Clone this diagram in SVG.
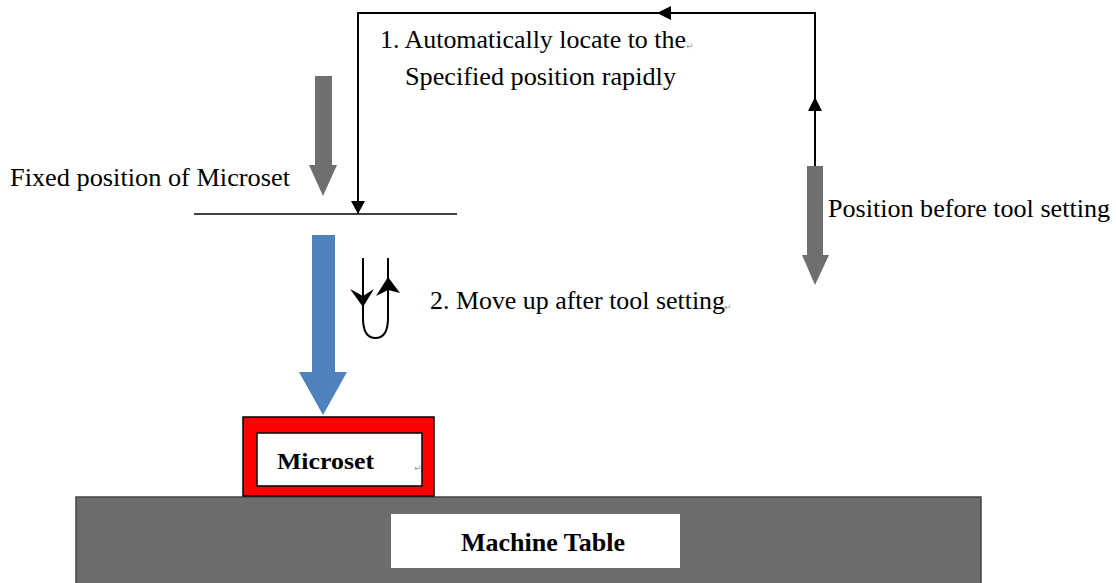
<svg xmlns="http://www.w3.org/2000/svg" width="1116" height="583" viewBox="0 0 1116 583">
<style>
.t{font-family:"Liberation Serif","Times New Roman",serif;font-size:25px;fill:#000}
.b{font-family:"Liberation Serif","Times New Roman",serif;font-weight:bold;fill:#000}
.pm{font-family:"DejaVu Sans",sans-serif;font-size:9px;fill:#999}
.ln{stroke:#000;stroke-width:2;fill:none}
.gray{fill:#6f6f6f}
</style>
<rect width="1116" height="583" fill="#fff"/>

<g id="machine-table">
<rect x="76" y="497" width="905" height="90" fill="#6d6d6d" stroke="#444" stroke-width="1.5"/>
<rect x="391" y="514" width="289" height="54" fill="#fff"/>
<text class="b" x="461" y="551" font-size="26" textLength="164" lengthAdjust="spacingAndGlyphs">Machine Table</text>
</g>

<g id="microset">
<rect x="243" y="417" width="191" height="79" fill="#ff0000" stroke="#000" stroke-width="1.5"/>
<rect x="257" y="433" width="165" height="53" fill="#fff" stroke="#000" stroke-width="1.5"/>
<text class="b" x="277" y="469" font-size="23" textLength="97" lengthAdjust="spacingAndGlyphs">Microset</text>
<text class="pm" x="414" y="471">↵</text>
</g>

<g id="fixed-position">
<line x1="194" y1="214" x2="457" y2="214" stroke="#000" stroke-width="1.5"/>
<text class="t" x="10" y="186" textLength="280" lengthAdjust="spacingAndGlyphs">Fixed position of Microset</text>
</g>

<g id="gray-arrow-left">
<path class="gray" d="M315,76 H332 V165 H337 L323,196 L309,165 H315 Z"/>
</g>

<g id="gray-arrow-right">
<path class="gray" d="M807,166 H823 V255 H829 L815,285 L802,255 H807 Z"/>
<text class="t" x="828" y="217" textLength="282" lengthAdjust="spacingAndGlyphs">Position before tool setting</text>
</g>

<g id="blue-arrow">
<path fill="#4f81bd" d="M312,235 H335 V372 H347 L323,415 L299,372 H312 Z"/>
</g>

<g id="connectors">
<path class="ln" d="M815,166 V13 H358 V213" stroke-width="1.8"/>
<path d="M815,97 L808,111 L822,111 Z" fill="#000"/>
<path d="M657,13 L671,6 L671,20 Z" fill="#000"/>
<path d="M358,214 L351,201 L365,201 Z" fill="#000"/>
<path class="ln" d="M363,258 V318 Q363,338 375.5,338 Q388,338 388,318 V258" stroke-width="2"/>
<path d="M363,307 L350,289 L363,296 L374,289 Z" fill="#000"/>
<path d="M388,277 L376,296 L388,290 L400,293 Z" fill="#000"/>
</g>

<g id="labels">
<text class="t" x="380" y="48" textLength="306" lengthAdjust="spacingAndGlyphs">1. Automatically locate to the</text>
<text class="pm" x="686" y="49">↵</text>
<text class="t" x="405" y="85" textLength="271" lengthAdjust="spacingAndGlyphs">Specified position rapidly</text>
<text class="t" x="430" y="309" textLength="295" lengthAdjust="spacingAndGlyphs">2. Move up after tool setting</text>
<text class="pm" x="724" y="310">↵</text>
</g>
</svg>
